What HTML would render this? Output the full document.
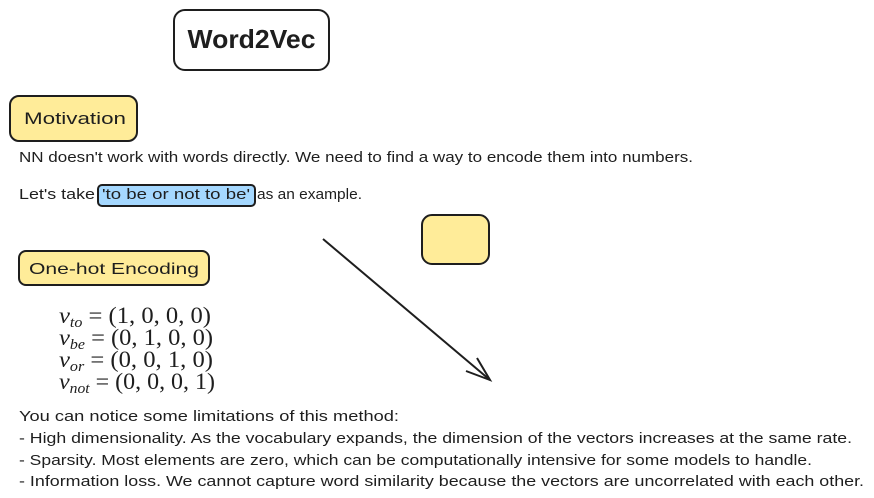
<!DOCTYPE html>
<html><head><meta charset="utf-8"><style>
html,body{margin:0;padding:0;background:#fff;width:874px;height:498px;overflow:hidden}
text{font-family:"Liberation Sans",sans-serif;fill:#1e1e1e}
.m{font-family:"Liberation Serif",serif;font-size:23px}
.s{font-style:italic}
</style></head><body>
<svg width="874" height="498" viewBox="0 0 874 498" xmlns="http://www.w3.org/2000/svg">
<rect x="174" y="10" width="155" height="60" rx="11" fill="#fff" stroke="#1e1e1e" stroke-width="2"/>
<text x="251.5" y="48" text-anchor="middle" font-size="26" font-weight="bold" textLength="128" lengthAdjust="spacingAndGlyphs">Word2Vec</text>
<rect x="10" y="96" width="127" height="45" rx="9" fill="#ffec99" stroke="#1e1e1e" stroke-width="2"/>
<text x="24" y="124" font-size="17" textLength="102" lengthAdjust="spacingAndGlyphs">Motivation</text>
<text x="19" y="162" font-size="14.5" textLength="674" lengthAdjust="spacingAndGlyphs">NN doesn't work with words directly. We need to find a way to encode them into numbers.</text>
<rect x="98" y="185" width="157" height="21" rx="4" fill="#a5d8ff" stroke="#1e1e1e" stroke-width="2"/>
<text x="19" y="199" font-size="14.5" textLength="76" lengthAdjust="spacingAndGlyphs">Let's take</text>
<text x="102" y="199" font-size="14.5" textLength="148" lengthAdjust="spacingAndGlyphs">'to be or not to be'</text>
<text x="257" y="199" font-size="14.5" textLength="105" lengthAdjust="spacingAndGlyphs">as an example.</text>
<rect x="422" y="215" width="67" height="49" rx="10" fill="#ffec99" stroke="#1e1e1e" stroke-width="2"/>
<rect x="19" y="251" width="190" height="34" rx="7" fill="#ffec99" stroke="#1e1e1e" stroke-width="2"/>
<text x="29" y="274" font-size="16" textLength="170" lengthAdjust="spacingAndGlyphs">One-hot Encoding</text>
<text class="m" x="59" y="323" textLength="152" lengthAdjust="spacingAndGlyphs"><tspan class="s">v</tspan><tspan class="s" font-size="15" dy="4">to</tspan><tspan dy="-4"> = (1, 0, 0, 0)</tspan></text>
<text class="m" x="59" y="345" textLength="154" lengthAdjust="spacingAndGlyphs"><tspan class="s">v</tspan><tspan class="s" font-size="15" dy="4">be</tspan><tspan dy="-4"> = (0, 1, 0, 0)</tspan></text>
<text class="m" x="59" y="367" textLength="154" lengthAdjust="spacingAndGlyphs"><tspan class="s">v</tspan><tspan class="s" font-size="15" dy="4">or</tspan><tspan dy="-4"> = (0, 0, 1, 0)</tspan></text>
<text class="m" x="59" y="389" textLength="156" lengthAdjust="spacingAndGlyphs"><tspan class="s">v</tspan><tspan class="s" font-size="15" dy="4">not</tspan><tspan dy="-4"> = (0, 0, 0, 1)</tspan></text>
<line x1="323" y1="239" x2="490" y2="380" stroke="#1e1e1e" stroke-width="2"/>
<polyline points="466,371 490,380 477,358" fill="none" stroke="#1e1e1e" stroke-width="2"/>
<text x="19" y="421" font-size="14.5" textLength="380" lengthAdjust="spacingAndGlyphs">You can notice some limitations of this method:</text>
<text x="19" y="443" font-size="14.5" textLength="833" lengthAdjust="spacingAndGlyphs">- High dimensionality. As the vocabulary expands, the dimension of the vectors increases at the same rate.</text>
<text x="19" y="465" font-size="14.5" textLength="793" lengthAdjust="spacingAndGlyphs">- Sparsity. Most elements are zero, which can be computationally intensive for some models to handle.</text>
<text x="19" y="486" font-size="14.5" textLength="845" lengthAdjust="spacingAndGlyphs">- Information loss. We cannot capture word similarity because the vectors are uncorrelated with each other.</text>
</svg>
</body></html>
